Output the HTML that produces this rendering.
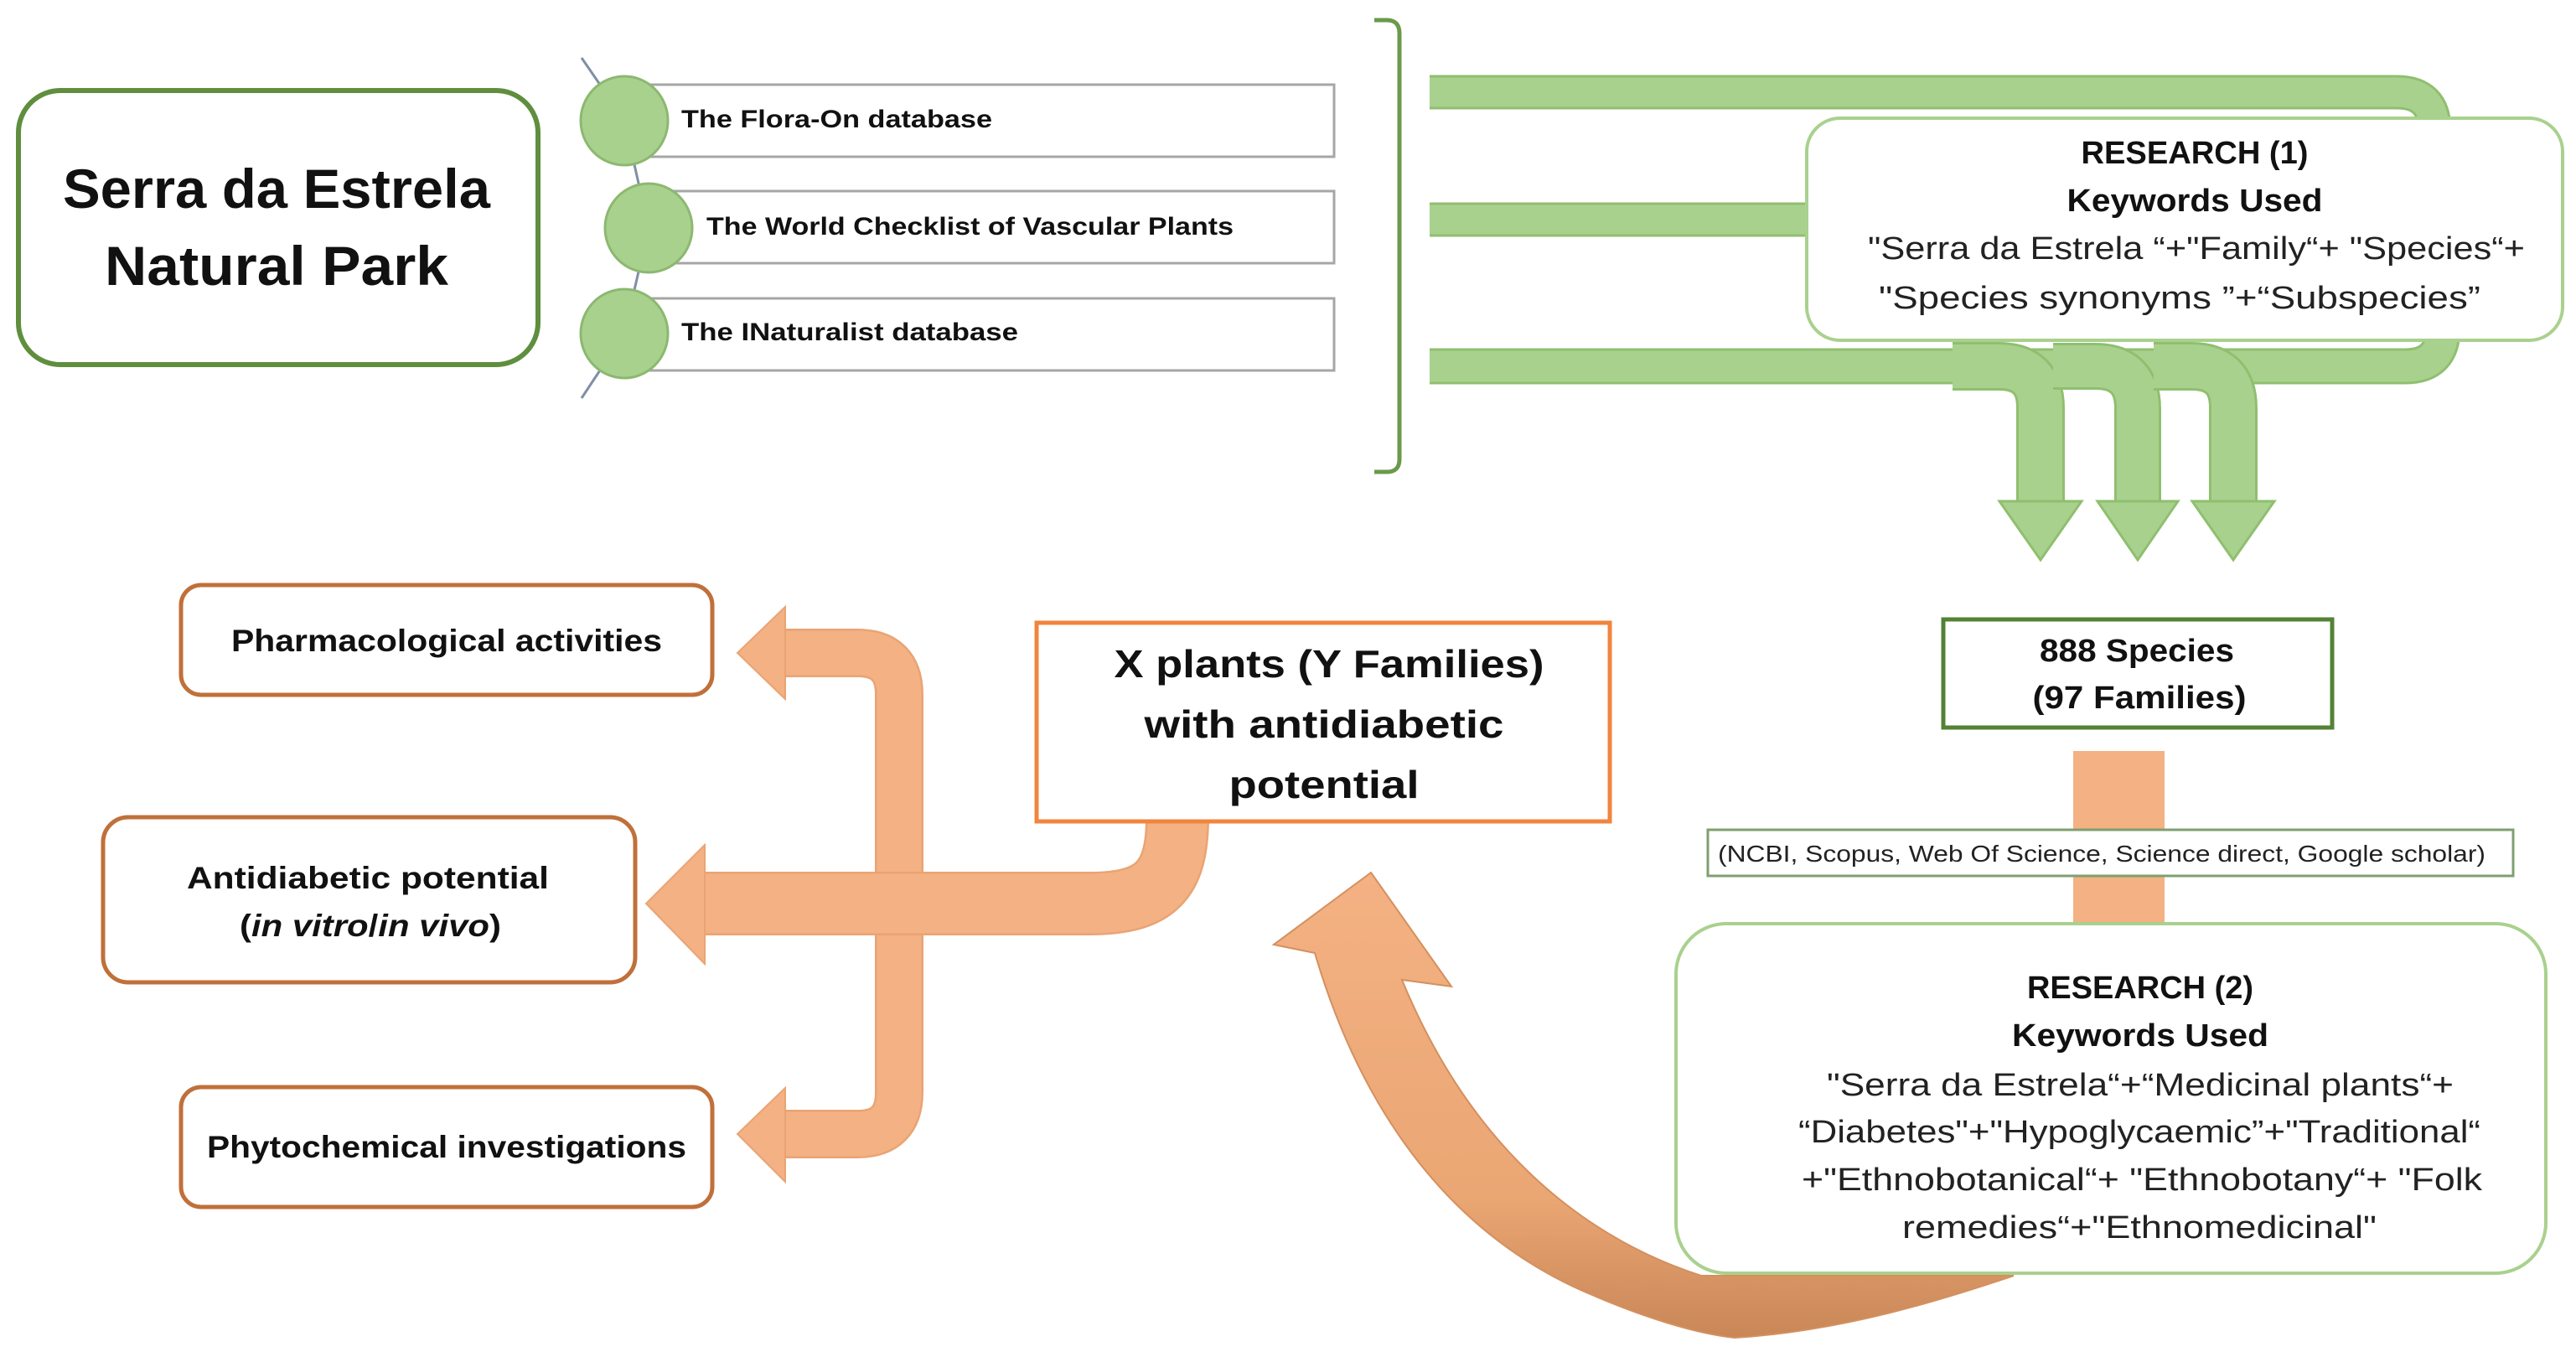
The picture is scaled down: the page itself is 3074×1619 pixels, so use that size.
<!DOCTYPE html>
<html><head><meta charset="utf-8"><style>
html,body{margin:0;padding:0;background:#fff;}
svg{display:block;}
text{font-family:"Liberation Sans",sans-serif;font-weight:bold;fill:#111;}
.n{font-weight:normal;fill:#222;}
</style></head><body>
<svg width="3074" height="1619" viewBox="0 0 3074 1619" xmlns="http://www.w3.org/2000/svg">
<defs>
<linearGradient id="og" x1="0" y1="0" x2="0" y2="1">
<stop offset="0" stop-color="#f4b183"/><stop offset="0.7" stop-color="#eaa673"/><stop offset="1" stop-color="#c98657"/>
</linearGradient>
</defs>
<rect width="3074" height="1619" fill="#fff"/>

<rect x="22" y="108" width="620" height="327" rx="50" fill="#fff" stroke="#5f8f3e" stroke-width="6"/>
<text x="330" y="248" font-size="66" text-anchor="middle" textLength="510" lengthAdjust="spacingAndGlyphs">Serra da Estrela</text>
<text x="330" y="340" font-size="66" text-anchor="middle" textLength="410" lengthAdjust="spacingAndGlyphs">Natural Park</text>

<rect x="760" y="101" width="832" height="86" fill="#fff" stroke="#a6a6a6" stroke-width="3"/>
<rect x="790" y="228" width="802" height="86" fill="#fff" stroke="#a6a6a6" stroke-width="3"/>
<rect x="760" y="356" width="832" height="86" fill="#fff" stroke="#a6a6a6" stroke-width="3"/>
<polyline points="694,69 745,143 774,272 745,398 694,475" fill="none" stroke="#7f8fa6" stroke-width="3"/>
<ellipse cx="745" cy="144" rx="52" ry="53" fill="#a9d18e" stroke="#8cb870" stroke-width="3"/>
<ellipse cx="774" cy="272" rx="52" ry="53" fill="#a9d18e" stroke="#8cb870" stroke-width="3"/>
<ellipse cx="745" cy="398" rx="52" ry="53" fill="#a9d18e" stroke="#8cb870" stroke-width="3"/>
<text x="813" y="152" font-size="30" textLength="371" lengthAdjust="spacingAndGlyphs">The Flora-On database</text>
<text x="843" y="280" font-size="30" textLength="629" lengthAdjust="spacingAndGlyphs">The World Checklist of Vascular Plants</text>
<text x="813" y="406" font-size="30" textLength="402" lengthAdjust="spacingAndGlyphs">The INaturalist database</text>

<path d="M1640,24 L1655,24 Q1670,24 1670,40 L1670,548 Q1670,563 1655,563 L1640,563" fill="none" stroke="#6a9a4a" stroke-width="5"/>

<g fill="none" stroke-linecap="butt">
<path d="M1706,110 L2860,110 Q2905,110 2905,155 L2905,200" stroke="#8fbf6f" stroke-width="41"/>
<path d="M1706,110 L2860,110 Q2905,110 2905,155 L2905,200" stroke="#a9d18e" stroke-width="35"/>
<path d="M1706,262 L2250,262" stroke="#8fbf6f" stroke-width="41"/>
<path d="M1706,262 L2250,262" stroke="#a9d18e" stroke-width="35"/>
<path d="M1706,437 L2870,437 Q2915,437 2915,392 L2915,360" stroke="#8fbf6f" stroke-width="43"/>
<path d="M1706,437 L2870,437 Q2915,437 2915,392 L2915,360" stroke="#a9d18e" stroke-width="37"/>
<path d="M2330,437 L2385,437 Q2435,437 2435,487 L2435,604" stroke="#8fbf6f" stroke-width="58"/>
<path d="M2330,437 L2385,437 Q2435,437 2435,487 L2435,604" stroke="#a9d18e" stroke-width="52"/>
<path d="M2450,437 L2500,437 Q2551,437 2551,488 L2551,604" stroke="#8fbf6f" stroke-width="56"/>
<path d="M2450,437 L2500,437 Q2551,437 2551,488 L2551,604" stroke="#a9d18e" stroke-width="50"/>
<path d="M2570,437 L2615,437 Q2665,437 2665,487 L2665,604" stroke="#8fbf6f" stroke-width="58"/>
<path d="M2570,437 L2615,437 Q2665,437 2665,487 L2665,604" stroke="#a9d18e" stroke-width="52"/>
</g>
<g fill="#a9d18e" stroke="#8fbf6f" stroke-width="3">
<polygon points="2386,598 2484,598 2435,668"/>
<polygon points="2503,598 2599,598 2551,668"/>
<polygon points="2616,598 2714,598 2665,668"/>
</g>

<rect x="2156" y="141" width="902" height="265" rx="40" fill="#fff" stroke="#a9d18e" stroke-width="4"/>
<text x="2619" y="195" font-size="38" text-anchor="middle" textLength="271" lengthAdjust="spacingAndGlyphs">RESEARCH (1)</text>
<text x="2619" y="252" font-size="38" text-anchor="middle" textLength="305" lengthAdjust="spacingAndGlyphs">Keywords Used</text>
<text class="n" x="2621" y="309" font-size="38" text-anchor="middle" textLength="784" lengthAdjust="spacingAndGlyphs">"Serra da Estrela “+"Family“+ "Species“+</text>
<text class="n" x="2601" y="368" font-size="38" text-anchor="middle" textLength="718" lengthAdjust="spacingAndGlyphs">"Species synonyms ”+“Subspecies”</text>

<rect x="2319" y="739" width="464" height="129" fill="#fff" stroke="#548235" stroke-width="5"/>
<text x="2550" y="789" font-size="38" text-anchor="middle" textLength="232" lengthAdjust="spacingAndGlyphs">888 Species</text>
<text x="2553" y="845" font-size="38" text-anchor="middle" textLength="255" lengthAdjust="spacingAndGlyphs">(97 Families)</text>

<rect x="2474" y="896" width="109" height="210" fill="#f4b183"/>
<rect x="2038" y="990" width="961" height="55" fill="#fff" stroke="#7f9f6f" stroke-width="3"/>
<text class="n" x="2508" y="1028" font-size="28" text-anchor="middle" textLength="916" lengthAdjust="spacingAndGlyphs">(NCBI, Scopus, Web Of Science, Science direct, Google scholar)</text>

<path d="M1569,1137 C1620,1310 1720,1470 1900,1545 C1970,1575 2030,1592 2070,1596 C2200,1588 2320,1550 2403,1522 L2030,1522 C1900,1480 1760,1380 1673,1169 L1732,1177 L1636,1041 L1520,1127 Z" fill="url(#og)" stroke="#d4905e" stroke-width="2"/>

<rect x="2000" y="1102" width="1038" height="417" rx="60" fill="#fff" stroke="#a9d18e" stroke-width="4"/>
<text x="2554" y="1191" font-size="38" text-anchor="middle" textLength="270" lengthAdjust="spacingAndGlyphs">RESEARCH (2)</text>
<text x="2554" y="1248" font-size="38" text-anchor="middle" textLength="306" lengthAdjust="spacingAndGlyphs">Keywords Used</text>
<text class="n" x="2554" y="1307" font-size="38" text-anchor="middle" textLength="748" lengthAdjust="spacingAndGlyphs">"Serra da Estrela“+“Medicinal plants“+</text>
<text class="n" x="2553" y="1363" font-size="38" text-anchor="middle" textLength="814" lengthAdjust="spacingAndGlyphs">“Diabetes"+"Hypoglycaemic”+"Traditional“</text>
<text class="n" x="2556" y="1420" font-size="38" text-anchor="middle" textLength="812" lengthAdjust="spacingAndGlyphs">+"Ethnobotanical“+ "Ethnobotany“+ "Folk</text>
<text class="n" x="2553" y="1477" font-size="38" text-anchor="middle" textLength="566" lengthAdjust="spacingAndGlyphs">remedies“+"Ethnomedicinal"</text>

<g fill="none">
<path d="M930,779 L1023,779 Q1073,779 1073,829 L1073,1303 Q1073,1353 1023,1353 L930,1353" stroke="#e9a474" stroke-width="58"/>
<path d="M930,779 L1023,779 Q1073,779 1073,829 L1073,1303 Q1073,1353 1023,1353 L930,1353" stroke="#f4b183" stroke-width="53"/>
<path d="M1405,975 C1405,1050 1380,1078 1300,1078 L835,1078" stroke="#e9a474" stroke-width="76"/>
<path d="M1405,975 C1405,1050 1380,1078 1300,1078 L835,1078" stroke="#f4b183" stroke-width="71"/>
</g>
<g fill="#f4b183" stroke="#e9a474" stroke-width="2">
<polygon points="937,724 937,834 880,779"/>
<polygon points="937,1298 937,1410 880,1353"/>
<polygon points="841,1008 841,1150 771,1078"/>
</g>

<rect x="1237" y="743" width="684" height="237" fill="#fff" stroke="#f0853e" stroke-width="5"/>
<text x="1586" y="808" font-size="46" text-anchor="middle" textLength="513" lengthAdjust="spacingAndGlyphs">X plants (Y Families)</text>
<text x="1580" y="880" font-size="46" text-anchor="middle" textLength="429" lengthAdjust="spacingAndGlyphs">with antidiabetic</text>
<text x="1580" y="952" font-size="46" text-anchor="middle" textLength="227" lengthAdjust="spacingAndGlyphs">potential</text>

<rect x="216" y="698" width="634" height="131" rx="24" fill="#fff" stroke="#c0703a" stroke-width="5"/>
<text x="533" y="777" font-size="37" text-anchor="middle" textLength="514" lengthAdjust="spacingAndGlyphs">Pharmacological activities</text>
<rect x="123" y="975" width="635" height="197" rx="30" fill="#fff" stroke="#c0703a" stroke-width="5"/>
<text x="439" y="1060" font-size="37" text-anchor="middle" textLength="432" lengthAdjust="spacingAndGlyphs">Antidiabetic potential</text>
<text x="442" y="1117" font-size="37" text-anchor="middle" textLength="312" lengthAdjust="spacingAndGlyphs">(<tspan font-style="italic">in vitro</tspan>/<tspan font-style="italic">in vivo</tspan>)</text>
<rect x="216" y="1297" width="634" height="143" rx="24" fill="#fff" stroke="#c0703a" stroke-width="5"/>
<text x="533" y="1381" font-size="37" text-anchor="middle" textLength="572" lengthAdjust="spacingAndGlyphs">Phytochemical investigations</text>
</svg>
</body></html>
